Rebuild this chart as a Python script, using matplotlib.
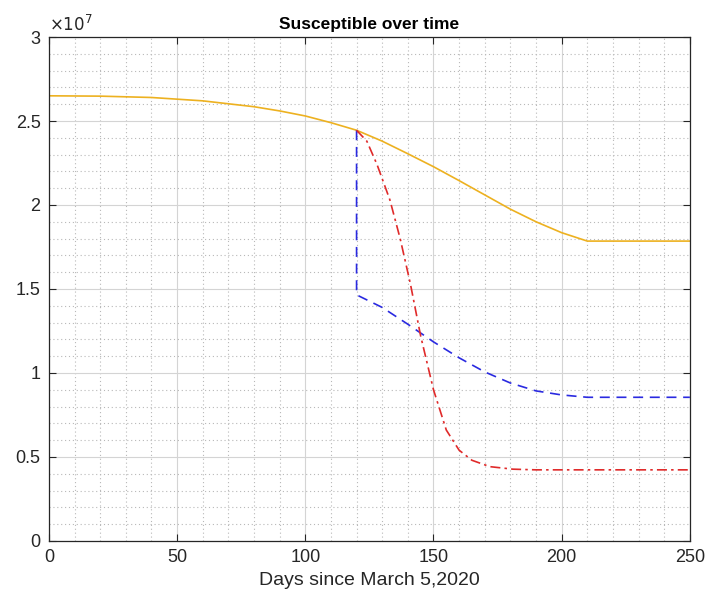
import numpy as np
import matplotlib.pyplot as plt
from matplotlib.ticker import MultipleLocator, FuncFormatter

plt.rcParams['font.family'] = ['Liberation Sans', 'DejaVu Sans']

# susceptible population, no intervention
base_days = [0, 20, 40, 60, 80, 90, 100, 110, 120, 130, 140, 150, 160, 170,
             180, 190, 200, 210, 250]
base_S = [2.650e7, 2.648e7, 2.640e7, 2.620e7, 2.585e7, 2.560e7, 2.530e7,
          2.490e7, 2.445e7, 2.380e7, 2.305e7, 2.228e7, 2.145e7, 2.060e7,
          1.975e7, 1.900e7, 1.835e7, 1.785e7, 1.785e7]

# scenario with a sudden drop at day 120
drop_days = [120, 120, 130, 140, 150, 160, 170, 180, 190, 200, 210, 250]
drop_S = [2.445e7, 1.465e7, 1.390e7, 1.290e7, 1.185e7, 1.090e7, 1.006e7,
          0.940e7, 0.893e7, 0.869e7, 0.855e7, 0.855e7]

# scenario with fast spread after day 120
fast_days = [120, 124, 128, 133, 137, 141, 145, 150, 155, 160, 165, 172,
             181, 190, 250]
fast_S = [2.445e7, 2.380e7, 2.240e7, 2.030e7, 1.800e7, 1.530e7, 1.220e7,
          0.900e7, 0.660e7, 0.540e7, 0.480e7, 0.442e7, 0.427e7, 0.423e7,
          0.423e7]

fig = plt.figure(figsize=(7.09, 6.03), dpi=100)
ax = fig.add_axes([0.069, 0.103, 0.904, 0.8356])

ax.plot(base_days, base_S, color='#EDB120', lw=1.2)
ax.plot(drop_days, drop_S, color='#2a2ae0', lw=1.2, ls=(0, (6, 4)))
ax.plot(fast_days, fast_S, color='#e02a2a', lw=1.2, ls=(0, (6, 2.5, 1.5, 2.5)))

ax.set_xlim(0, 250)
ax.set_ylim(0, 3e7)
ax.xaxis.set_major_locator(MultipleLocator(50))
ax.xaxis.set_minor_locator(MultipleLocator(10))
ax.yaxis.set_major_locator(MultipleLocator(0.5e7))
ax.yaxis.set_minor_locator(MultipleLocator(0.1e7))
ax.yaxis.set_major_formatter(FuncFormatter(lambda v, p: '%g' % (v / 1e7)))

ax.grid(which='major', color='#d4d4d4', lw=0.8)
ax.grid(which='minor', color='#b8b8b8', lw=0.8, ls=(0, (1, 2.5)))
ax.set_axisbelow(True)

ax.tick_params(which='both', direction='in', top=True, right=True,
               labelsize=13, colors='#262626', pad=6)
ax.tick_params(which='minor', length=0)
ax.tick_params(which='major', length=5)
for s in ax.spines.values():
    s.set_color('#262626')
    s.set_linewidth(0.9)

ax.set_title('Susceptible over time', fontsize=12.5, fontweight='bold', pad=6)
ax.set_xlabel('Days since March 5,2020', fontsize=14, color='#262626')
ax.text(0.0, 1.006, r'$\times10^{7}$', transform=ax.transAxes, fontsize=12,
        color='#262626', va='bottom', ha='left')

fig.savefig('out.png', dpi=100)
